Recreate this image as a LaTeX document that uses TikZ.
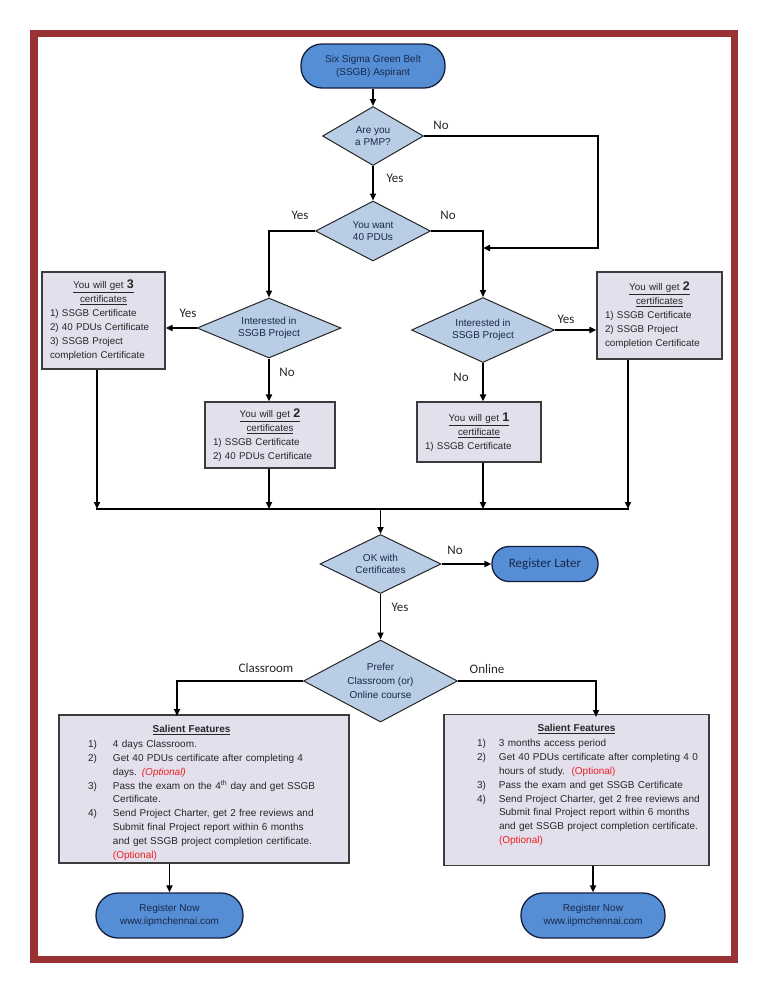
\documentclass[tikz,border=0pt]{standalone}
\usepackage{fontspec}
\setmainfont{Liberation Sans}
\newfontfamily\labfont{Carlito}
\usepackage{array}
\usetikzlibrary{arrows.meta,shapes.geometric,calc}
\definecolor{framec}{RGB}{153,51,51}
\definecolor{termfill}{RGB}{85,142,213}
\definecolor{termdraw}{RGB}{20,30,60}
\definecolor{diafill}{RGB}{185,205,229}
\definecolor{boxfill}{RGB}{228,223,236}
\definecolor{boxdraw}{RGB}{60,60,60}
\definecolor{navytext}{RGB}{25,40,75}
\definecolor{optc}{RGB}{235,30,30}
\begin{document}
\begin{tikzpicture}[x=1pt,y=-1pt,
  term/.style={draw=termdraw, line width=1.3pt, fill=termfill, align=center,
    text=navytext, font=\fontsize{10}{13}\selectfont, inner sep=0pt},
  dia/.style={diamond, draw=black!85, line width=1pt, fill=diafill, inner sep=0pt,
    align=center, font=\fontsize{10}{12.5}\selectfont, text=navytext},
  cert/.style={draw=boxdraw, line width=1.2pt, fill=boxfill, inner xsep=8pt, inner ysep=0pt,
    align=left, font=\fontsize{9.8}{14}\selectfont, text=black!85},
  feat/.style={draw=boxdraw, line width=1.2pt, fill=boxfill, inner sep=0pt,
    align=left, font=\fontsize{10}{13.9}\selectfont, text=black!85},
  lab/.style={font=\labfont\fontsize{13}{14}\selectfont, text=black!85, inner sep=0pt},
  conn/.style={line width=1.8pt, black},
  arr/.style={conn, -{Triangle[length=7pt,width=6pt]}}]
\useasboundingbox (0,0) rectangle (768,994);
\fill[white] (0,0) rectangle (768,994);
\draw[framec, line width=7.5pt] (33.75,33.5) rectangle (734.25,959.5);

% nodes
\node[term, minimum width=144pt, minimum height=44pt, rounded corners=21pt] (start) at (373,66) {Six Sigma Green Belt\\(SSGB) Aspirant};
\node[dia, aspect=1.71, minimum width=101pt, minimum height=59pt] (pmp) at (373,136) {Are you\\a PMP?};
\node[dia, aspect=1.92, minimum width=115pt, minimum height=60pt] (pdu) at (373,231) {You want\\40 PDUs};
\node[dia, aspect=2.4, minimum width=144pt, minimum height=60pt] (intL) at (269,328) {Interested in\\SSGB Project};
\node[dia, aspect=2.2, minimum width=143pt, minimum height=65pt] (intR) at (483,330) {Interested in\\SSGB Project};

\node[cert, minimum width=123pt, minimum height=97pt, text width=107pt] (three) at (103.5,320.5)
  {{\centering\underline{You will get {\fontsize{12.5}{14}\selectfont\bfseries 3}}\\\underline{certificates}\par}
   1) SSGB Certificate\\2) 40 PDUs Certificate\\3) SSGB Project\\completion Certificate};
\node[cert, minimum width=130pt, minimum height=66pt, text width=114pt] (twoL) at (270,435)
  {{\centering\underline{You will get {\fontsize{12.5}{14}\selectfont\bfseries 2}}\\\underline{certificates}\par}
   1) SSGB Certificate\\2) 40 PDUs Certificate};
\node[cert, minimum width=125pt, minimum height=87pt, text width=109pt] (twoR) at (659.5,315.5)
  {{\centering\underline{You will get {\fontsize{12.5}{14}\selectfont\bfseries 2}}\\\underline{certificates}\par}
   1) SSGB Certificate\\2) SSGB Project\\completion Certificate};
\node[cert, minimum width=124pt, minimum height=60pt, text width=108pt] (one) at (479,432)
  {{\centering\underline{You will get {\fontsize{12.5}{14}\selectfont\bfseries 1}}\\\underline{certificate}\par}
   1) SSGB Certificate};

\node[dia, aspect=2.05, minimum width=121pt, minimum height=59pt] (okc) at (380.5,564) {OK with\\Certificates};
\node[term, minimum width=106pt, minimum height=35pt, rounded corners=17pt, font=\labfont\fontsize{13}{14}\selectfont] (later) at (545,564) {Register Later};
\node[dia, aspect=1.88, minimum width=154pt, minimum height=82pt, font=\fontsize{10}{14}\selectfont] (pref) at (380.5,681) {Prefer\\Classroom (or)\\Online course};

\node[feat, minimum width=290pt, minimum height=148pt, text width=290pt] (cls) at (204,789)
  {{\centering\hspace*{-25pt}\rule{0pt}{17.3pt}\textbf{\underline{Salient Features}}\par}\vspace{2pt}
   \noindent\hspace*{29pt}\begin{tabular}{@{}p{25pt}@{}>{\raggedright\arraybackslash}p{232pt}@{}}
   1) & 4 days Classroom.\\
   2) & Get 40 PDUs certificate after completing 4\newline days. \textcolor{optc}{\itshape (Optional)}\\
   3) & Pass the exam on the 4\textsuperscript{th} day and get SSGB\newline Certificate.\\
   4) & Send Project Charter, get 2 free reviews and\newline Submit final Project report within 6 months\newline and get SSGB project completion certificate.\newline \textcolor{optc}{(Optional)}
   \end{tabular}};
\node[feat, minimum width=265pt, minimum height=146pt, text width=265pt] (onl) at (576.5,790)
  {{\centering\rule{0pt}{17.3pt}\textbf{\underline{Salient Features}}\par}\vspace{2pt}
   \noindent\hspace*{33pt}\begin{tabular}{@{}p{22pt}@{}>{\raggedright\arraybackslash}p{208pt}@{}}
   1) & 3 months access period\\
   2) & Get 40 PDUs certificate after completing 4 0\newline hours of study.\ \ \textcolor{optc}{(Optional)}\\
   3) & Pass the exam and get SSGB Certificate\\
   4) & Send Project Charter, get 2 free reviews and\newline Submit final Project report within 6 months\newline and get SSGB project completion certificate.\newline \textcolor{optc}{(Optional)}\rule[-22pt]{0pt}{22pt}
   \end{tabular}};

\node[term, minimum width=147pt, minimum height=45pt, rounded corners=22pt] (rn1) at (169.5,915.5) {Register Now\\www.iipmchennai.com};
\node[term, minimum width=144pt, minimum height=45pt, rounded corners=22pt] (rn2) at (593,915.5) {Register Now\\www.iipmchennai.com};

% coordinates
\coordinate (j1) at (483,248);
\coordinate (barL) at (97,509);
\coordinate (barM) at (269,509);
\coordinate (bar1) at (483,509);
\coordinate (barR) at (628,509);
\coordinate (cin) at (177,716);
\coordinate (oin) at (596,717);

% connectors
\draw[arr] (start.south) -- (pmp.north);
\draw[arr] (pmp.east) -- ++(174,0) |- (j1);
\draw[arr] (pmp.south) -- (pdu.north);
\draw[arr] (pdu.west) -| (intL.north);
\draw[arr] (pdu.east) -| (intR.north);
\draw[arr] (intL.west) -- (intL.west -| three.east);
\draw[arr] (intL.south) -- (intL.south |- twoL.north);
\draw[arr] (intR.east) -- (intR.east -| twoR.west);
\draw[arr] (intR.south) -- (intR.south |- one.north);
\draw[arr] (three.south -| barL) -- (barL);
\draw[arr] (twoL.south -| barM) -- (barM);
\draw[arr] (one.south -| bar1) -- (bar1);
\draw[arr] (twoR.south -| barR) -- (barR);
\draw[conn] ([xshift=-1pt]barL) -- ([xshift=1pt]barR);
\draw[arr] (okc.north |- barL) -- (okc.north);
\draw[arr] (okc.east) -- (later.west);
\draw[arr] (okc.south) -- (pref.north);
\draw[arr] (pref.west) -| (cin);
\draw[arr] (pref.east) -| (oin);
\draw[arr] (rn1.north |- cls.south) -- (rn1.north);
\draw[arr] (rn2.north |- onl.south) -- (rn2.north);

% labels
\node[lab] (l1) at (441,125) {No};
\node[lab] (l2) at (395,178) {Yes};
\node[lab] (l3) at (300,215) {Yes};
\node[lab] (l4) at (448,215) {No};
\node[lab] (l5) at (188,313) {Yes};
\node[lab] (l6) at (287,372) {No};
\node[lab] (l7) at (566,319) {Yes};
\node[lab] (l8) at (461,377) {No};
\node[lab] (l9) at (455,550) {No};
\node[lab] (l10) at (400,607) {Yes};
\node[lab] (l11) at (266,668) {Classroom};
\node[lab] (l12) at (487,669) {Online};
\end{tikzpicture}
\end{document}
